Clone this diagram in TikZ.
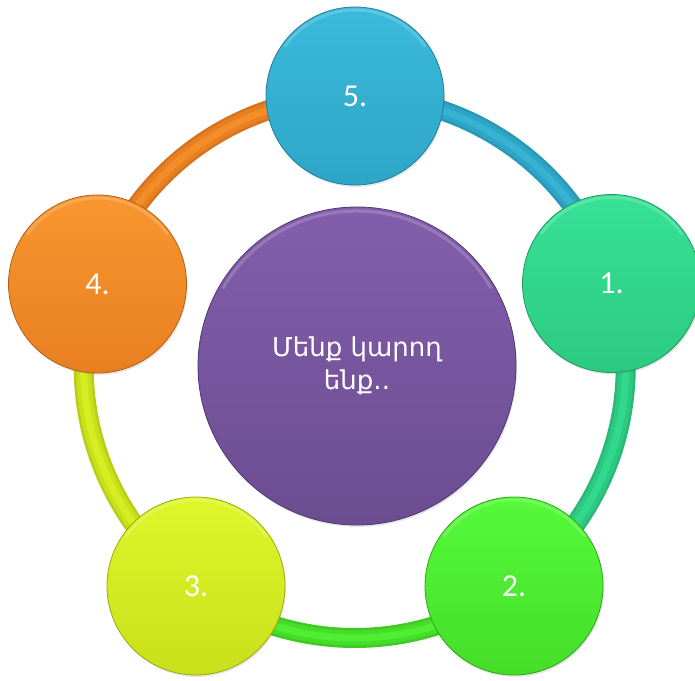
\documentclass[tikz,border=0pt]{standalone}
\usepackage{fontspec}
\setmainfont{Carlito}
\newfontfamily\armfont{DejaVu Sans}
\usetikzlibrary{shadows}
\definecolor{bT}{HTML}{3BBADB}\definecolor{bB}{HTML}{2EA5C6}\definecolor{bL}{HTML}{1E7F9C}
\definecolor{tT}{HTML}{36E195}\definecolor{tB}{HTML}{2CCA81}\definecolor{tL}{HTML}{1F9A5E}
\definecolor{gT}{HTML}{55FA3A}\definecolor{gB}{HTML}{45DD29}\definecolor{gL}{HTML}{2FA619}
\definecolor{yT}{HTML}{DDF72A}\definecolor{yB}{HTML}{C9E01A}\definecolor{yL}{HTML}{98AC0E}
\definecolor{oT}{HTML}{F8962F}\definecolor{oB}{HTML}{E88022}\definecolor{oL}{HTML}{B45F14}
\definecolor{pT}{HTML}{835EAC}\definecolor{pB}{HTML}{6B4D91}\definecolor{pL}{HTML}{4F3770}
\tikzset{
  ball/.style={circle, inner sep=0pt, minimum size=178pt, shading=axis, shading angle=0,
    draw=#1L, line width=0.8pt, top color=#1T, bottom color=#1B, text=white,
    font=\fontsize{32}{38}\selectfont,
    drop shadow={shadow xshift=1pt, shadow yshift=-2pt, opacity=0.2}},
  hub/.style={circle, inner sep=0pt, minimum size=318pt, shading=axis, shading angle=0,
    draw=pL, line width=0.8pt, top color=pT, bottom color=pB, text=white,
    align=center, font=\armfont\fontsize{26}{33}\selectfont,
    drop shadow={shadow xshift=1pt, shadow yshift=-2pt, opacity=0.2}},
  tube/.style={line width=20pt, draw=#1L!35!#1B},
  tubemid/.style={line width=15pt, draw=#1B},
  tubehi/.style={line width=7pt, draw=#1B!40!#1T},
  rim/.style={draw=white, opacity=0.18, line width=3pt}
}
\begin{document}
\begin{tikzpicture}[x=1pt,y=1pt]
\useasboundingbox (0,0) rectangle (695,680);
\coordinate (rc) at (354.7,313);
% ring segments
\foreach \a/\b/\c in {90/18/b, 18/-54/t, -54/-126/g, 234/162/y, 162/90/o}{
  \draw[tube=\c] ([shift={(\a:271)}]rc) arc[start angle=\a, end angle=\b, radius=271];
  \draw[tubemid=\c] ([shift={(\a:271)}]rc) arc[start angle=\a, end angle=\b, radius=271];
  \draw[tubehi=\c] ([shift={(\a:271)}]rc) arc[start angle=\a, end angle=\b, radius=271];
}
% hub
\node[hub] (hub) at (357,314) {Մենք կարող\\ենք..};
\draw[rim] ([shift={(150:155)}]hub.center) arc[start angle=150, end angle=30, radius=155];
% outer balls
\node[ball=b] (n5) at (355,584) {5.};
\node[ball=t] (n1) at (611.5,396.5) {1.};
\node[ball=g] (n2) at (514,94) {2.};
\node[ball=y] (n3) at (196,94) {3.};
\node[ball=o] (n4) at (97.5,396) {4.};
\foreach \n in {n5,n1,n2,n3,n4}{
  \draw[rim] ([shift={(145:86)}]\n.center) arc[start angle=145, end angle=35, radius=86];
}
\end{tikzpicture}
\end{document}
